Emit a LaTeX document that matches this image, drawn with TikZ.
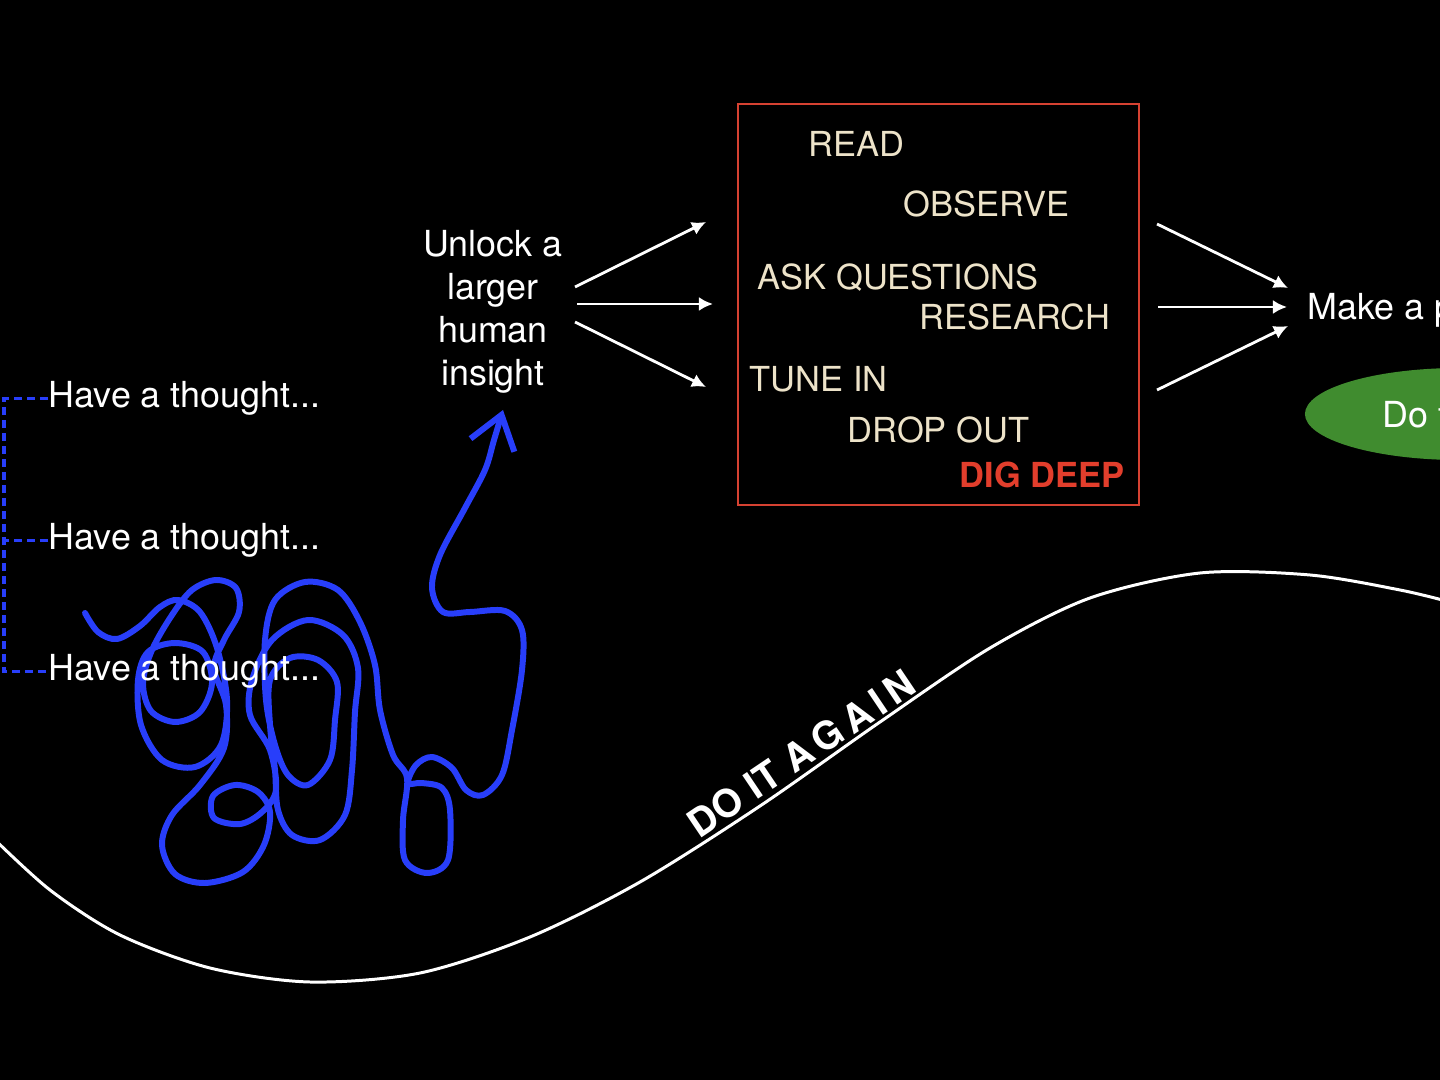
\documentclass[tikz,border=0pt]{standalone}
\usepackage{fontspec}
\setmainfont{TeX Gyre Heros}
\usetikzlibrary{arrows.meta,shapes.geometric}
\definecolor{inkblue}{RGB}{40,62,250}
\definecolor{boxred}{RGB}{214,66,50}
\definecolor{digred}{RGB}{226,62,44}
\definecolor{sand}{RGB}{237,227,201}
\definecolor{leaf}{RGB}{64,140,47}
\begin{document}
\begin{tikzpicture}[x=0.01cm,y=-0.01cm,
		every node/.style={inner sep=0pt,font=\fontsize{10.2}{12.2}\selectfont},
		thought/.style={anchor=base west,text=white},
		boxword/.style={anchor=base west,text=sand,font=\fontsize{9.8}{12}\selectfont},
		fan/.style={white,line width=0.8pt,-{Latex[length=4pt,width=4pt]}},
		dashlink/.style={inkblue,line width=0.9pt,dash pattern=on 2.2pt off 1.5pt}]
	\fill[black] (0,0) rectangle (1440,1080);
	\useasboundingbox (0,0) rectangle (1440,1080);
	% the wave
	\draw[white,line width=0.85pt] plot[smooth] coordinates {(-10,835) (50,890) (120,935) (210,968) (310,982) (420,973) (530,937) (640,882) (760,806) (880,722) (990,648) (1090,598) (1200,573) (1310,575) (1400,590) (1450,602)};
	\node (again) [rotate=34,anchor=base,text=white,font=\bfseries\fontsize{11}{13}\selectfont] at (809,765) {DO\hspace{3.2pt}IT\hspace{3.2pt}A\hspace{1.8pt}G\hspace{1.8pt}A\hspace{1.8pt}I\hspace{1.8pt}N};
	% the scribble
	\draw[inkblue,line width=1.7pt,line cap=round,line join=round,-{Straight Barb[length=9pt,width=13pt,line width=1.7pt]}] plot[smooth,tension=0.55] coordinates {(85,613) (98,632) (117,639) (140,626) (160,607) (178,600) (200,612) (217,648) (227,700) (221,745) (195,767) (162,760) (141,725) (138,680) (148,652) (175,643) (203,652) (212,683) (200,712) (175,722) (151,711) (143,683) (152,650) (172,615) (192,590) (216,580) (236,588) (239,612) (224,640) (214,668) (226,705) (224,748) (200,785) (172,815) (162,845) (175,874) (205,883) (243,872) (264,845) (270,812) (258,792) (235,785) (213,796) (214,818) (240,824) (262,812) (276,790) (270,750) (250,715) (252,680) (272,640) (308,620) (343,635) (358,668) (355,712) (352,770) (345,815) (320,840) (292,835) (278,810) (275,770) (270,725) (270,680) (290,658) (318,660) (337,682) (335,720) (330,760) (308,785) (288,775) (275,745) (266,700) (265,640) (275,600) (305,582) (338,590) (360,622) (375,665) (380,710) (393,755) (407,778) (403,820) (405,860) (427,873) (448,860) (450,810) (442,788) (422,783) (408,783) (416,765) (432,757) (452,768) (466,790) (483,795) (502,775) (512,730) (522,670) (522,630) (505,611) (470,612) (443,612) (432,588) (440,555) (465,508) (485,470) (494,440) (503,410)};
	% thoughts
	\node (h1) [thought] at (48,408) {Have a thought...};
	\node (h2) [thought] at (48,550) {Have a thought...};
	\node (h3) [thought] at (48,681) {Have a thought...};
	\draw[dashlink] (h1.west) -- ++(-44,0) |- (h3.west);
	\draw[dashlink] (h2.west) -- ++(-44,0);
	\node (unlock) [align=center,text=white,anchor=north] at (493,230) {Unlock a\\larger\\human\\insight};
	% box of ways in
	\node (box) [draw=boxred,line width=0.6pt,minimum width=4.01cm,minimum height=4.01cm] at (938.5,304.5) {};
	\node (read) [boxword] at (808,157) {READ};
	\node (observe) [boxword] at (903,217) {OBSERVE};
	\node (ask) [boxword] at (757,290) {ASK QUESTIONS};
	\node (research) [boxword] at (919,330) {RESEARCH};
	\node (tune) [boxword] at (749,392) {TUNE IN};
	\node (drop) [boxword] at (847,443) {DROP OUT};
	\node (dig) [anchor=base west,text=digred,font=\bfseries\fontsize{9.8}{12}\selectfont] at (959,488) {DIG DEEP};
	\coordinate (u1) at (575,287);
	\coordinate (u2) at (577,304);
	\coordinate (u3) at (575,322);
	\coordinate (b1) at (706,222);
	\coordinate (b2) at (713,304);
	\coordinate (b3) at (706,387);
	\draw[fan] (u1) -- (b1);
	\draw[fan] (u2) -- (b2);
	\draw[fan] (u3) -- (b3);
	% out to the plan
	\node (plan) [thought] at (1307,320) {Make a p};
	\coordinate (r1) at (1157,224);
	\coordinate (r2) at (1158,307);
	\coordinate (r3) at (1157,390);
	\coordinate (m1) at (1288,288);
	\coordinate (m2) at (1287,307);
	\coordinate (m3) at (1288,326);
	\draw[fan] (r1) -- (m1);
	\draw[fan] (r2) -- (m2);
	\draw[fan] (r3) -- (m3);
	\node (doit) [ellipse,fill=leaf,minimum width=3.1cm,minimum height=0.92cm] at (1460,414) {};
	\node (dotext) [thought] at (1382,428) {Do t};
\end{tikzpicture}
\end{document}
